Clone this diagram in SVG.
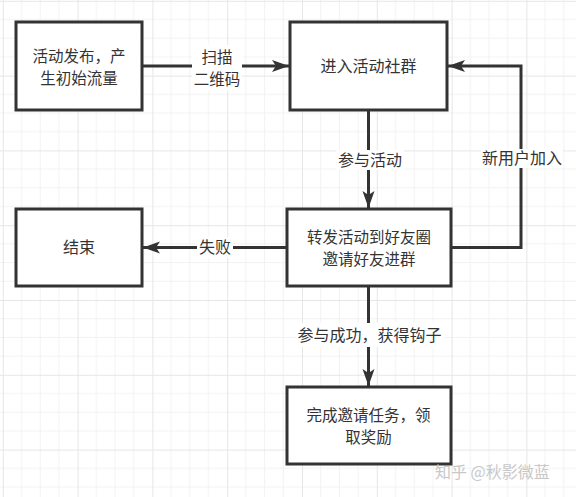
<svg xmlns="http://www.w3.org/2000/svg" width="576" height="497" viewBox="0 0 576 497">
  <defs>
    <pattern id="grid" patternUnits="userSpaceOnUse" x="2.8" y="0.8" width="74.8" height="74.8">
      <path d="M18.7 0V74.8M37.4 0V74.8M56.1 0V74.8M0 18.7H74.8M0 37.4H74.8M0 56.1H74.8" stroke="#f2f2f2" stroke-width="1" fill="none"/>
      <path d="M0.5 0V74.8M0 0.5H74.8" stroke="#e6e6e6" stroke-width="1" fill="none"/>
    </pattern>
    <marker id="arr" markerUnits="userSpaceOnUse" markerWidth="18" markerHeight="13" refX="17" refY="6.5" orient="auto">
      <path d="M0,0.5 L17,6.5 L0,12.5 L4,6.5 Z" fill="#333"/>
    </marker>
  </defs>
  <style>
    .node rect { fill: #fff; stroke: #333; stroke-width: 3; }
    text { font-family: "Noto Sans CJK SC", "Microsoft YaHei", sans-serif; font-size: 16px; fill: #333; text-anchor: middle; }
    .ml { font-size: 15.5px; }
    .edge { fill: none; stroke: #333; stroke-width: 3; }
    .lbl { fill: #fff; stroke: none; }
    .wm { fill: #c8c8c8; font-size: 16px; text-anchor: start; }
  </style>
  <rect width="576" height="497" fill="#fff"/>
  <rect width="576" height="497" fill="url(#grid)"/>

  <g id="connectors">
    <path class="edge" d="M142 66H289" marker-end="url(#arr)"/>
    <rect class="lbl" x="192" y="45" width="50" height="46"/>
    <text class="ml" x="217" y="62.5"><tspan x="217" y="62.5">扫描</tspan><tspan x="217" y="85">二维码</tspan></text>

    <path class="edge" d="M368.5 110V208" marker-end="url(#arr)"/>
    <rect class="lbl" x="336" y="150" width="68" height="20"/>
    <text x="370" y="165.5">参与活动</text>

    <path class="edge" d="M287 247.5H143" marker-end="url(#arr)"/>
    <rect class="lbl" x="197" y="237" width="36" height="21"/>
    <text x="215" y="253">失败</text>

    <path class="edge" d="M451 247.5H521V66H448" marker-end="url(#arr)"/>
    <rect class="lbl" x="481" y="149" width="82" height="19"/>
    <text x="522" y="163.5">新用户加入</text>

    <path class="edge" d="M368.5 286V386" marker-end="url(#arr)"/>
    <rect class="lbl" x="296" y="323" width="148" height="24"/>
    <text x="369.5" y="340.5">参与成功，获得钩子</text>
  </g>

  <g id="n1" class="node">
    <rect x="16" y="22" width="126" height="88"/>
    <text class="ml" x="79" y="61.5"><tspan x="79" y="61.5">活动发布，产</tspan><tspan x="79" y="84">生初始流量</tspan></text>
  </g>
  <g id="n2" class="node">
    <rect x="290" y="22" width="157" height="88"/>
    <text x="368.5" y="71.5">进入活动社群</text>
  </g>
  <g id="n3" class="node">
    <rect x="16" y="209" width="126" height="77"/>
    <text x="79" y="253">结束</text>
  </g>
  <g id="n4" class="node">
    <rect x="287" y="209" width="164" height="77"/>
    <text class="ml" x="369" y="242.5"><tspan x="369" y="242.5">转发活动到好友圈</tspan><tspan x="369" y="265">邀请好友进群</tspan></text>
  </g>
  <g id="n5" class="node">
    <rect x="287" y="387" width="164" height="77"/>
    <text class="ml" x="368.5" y="420.5"><tspan x="368.5" y="420.5">完成邀请任务，领</tspan><tspan x="368.5" y="443">取奖励</tspan></text>
  </g>

  <text class="wm" x="435" y="477.5">知乎 @秋影微蓝</text>
</svg>
